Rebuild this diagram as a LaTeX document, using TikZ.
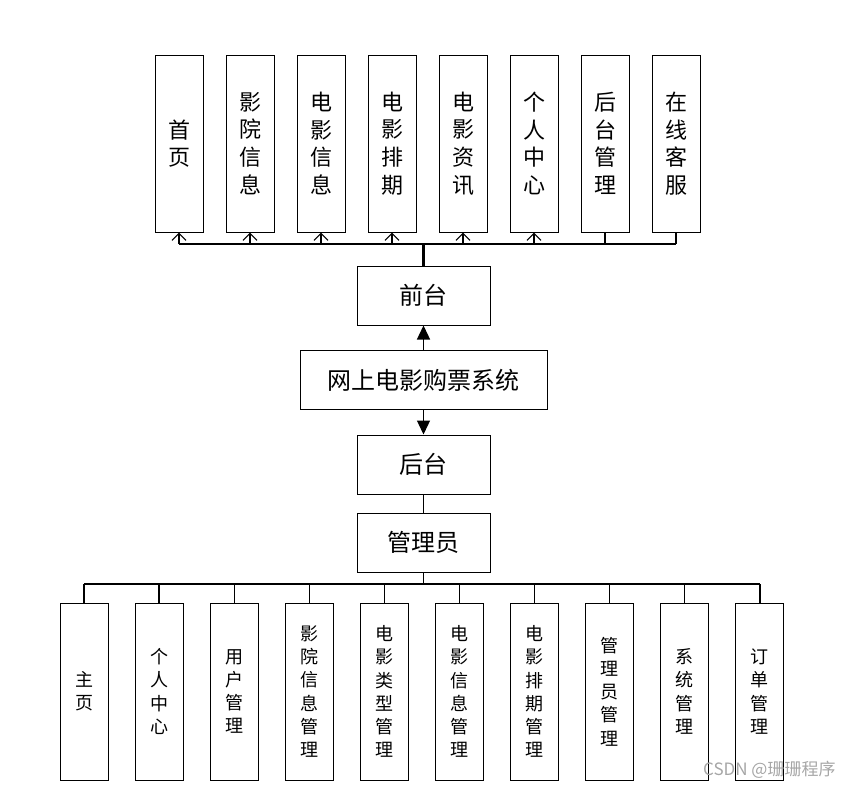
\documentclass[tikz,border=0pt]{standalone}
\usepackage{fontspec}
\newfontfamily\cjk{Noto Sans CJK SC}
\usetikzlibrary{arrows.meta}

\begin{document}
\begin{tikzpicture}[x=1pt,y=-1pt,line width=1pt,
    vbox/.style={draw,minimum width=48pt,minimum height=177pt,inner sep=0pt,align=center},
    hbox/.style={draw,minimum height=59pt,inner sep=0pt,font=\cjk\fontsize{24}{28}\selectfont},
    upper/.style={font=\cjk\fontsize{22}{27.7}\selectfont},
    lower/.style={font=\cjk\fontsize{18}{23.2}\selectfont}]
    \useasboundingbox (0,0) rectangle (852,788);
    % 中间的主干
    \node[hbox,minimum width=247pt] (sys) at (423.5,380) {网上电影购票系统};
    \node[hbox,minimum width=133pt] (qt) at (423.5,295.5) {前台};
    \node[hbox,minimum width=133pt] (ht) at (423.5,464.5) {后台};
    \node[hbox,minimum width=133pt] (gly) at (423.5,542.5) {管理员};
    \draw[line width=1.3pt,-{Triangle[width=13pt,length=14pt]}] (sys) -- (qt);
    \draw[line width=1.3pt,-{Triangle[width=13pt,length=14pt]}] (sys) -- (ht);
    \draw[line width=1.3pt] (ht) -- (gly);
    % 前台的模块
    \foreach \t [count=\i] in {{首\\页},{影\\院\\信\\息},{电\\影\\信\\息},{电\\影\\排\\期},
        {电\\影\\资\\讯},{个\\人\\中\\心},{后\\台\\管\\理},{在\\线\\客\\服}}
        \node[vbox,upper] (f\i) at ({108+71*\i},143.5) {\t};
    \coordinate (fbus) at (0,244);
    \draw[line width=1.3pt] (f1.south |- fbus) -- (f8.south |- fbus);
    \draw[line width=2.6pt] (f3.south |- fbus) -- (qt.north |- fbus) -- (qt.north);
    \foreach \i in {1,...,6}
        \draw[line width=1.2pt,-{Straight Barb[width=14pt,length=7pt]}] (f\i.south |- fbus) -- (f\i.south);
    \draw[line width=1.2pt] (f7.south) -- (f7.south |- fbus);
    \draw[line width=1.2pt] (f8.south) -- (f8.south |- fbus);
    % 后台的模块
    \foreach \t [count=\i] in {{主\\页},{个\\人\\中\\心},{用\\户\\管\\理},{影\\院\\信\\息\\管\\理},
        {电\\影\\类\\型\\管\\理},{电\\影\\信\\息\\管\\理},{电\\影\\排\\期\\管\\理},
        {管\\理\\员\\管\\理},{系\\统\\管\\理},{订\\单\\管\\理}}
        \node[vbox,lower] (b\i) at ({8.9+75.1*\i},691.5) {\t};
    \coordinate (bbus) at (0,584);
    \draw[line width=1.3pt] (gly) -- (gly.south |- bbus);
    \draw[line width=1.3pt] (b1.north |- bbus) -- (b10.north |- bbus);
    \foreach \i in {1,...,10}
        \draw[line width=1.3pt] (b\i.north |- bbus) -- (b\i.north);
    % 水印
    \node[anchor=east,text=black!35,font=\cjk\fontsize{17}{19}\selectfont,inner sep=0pt] (wm) at (836,770) {CSDN @珊珊程序};
\end{tikzpicture}
\end{document}
